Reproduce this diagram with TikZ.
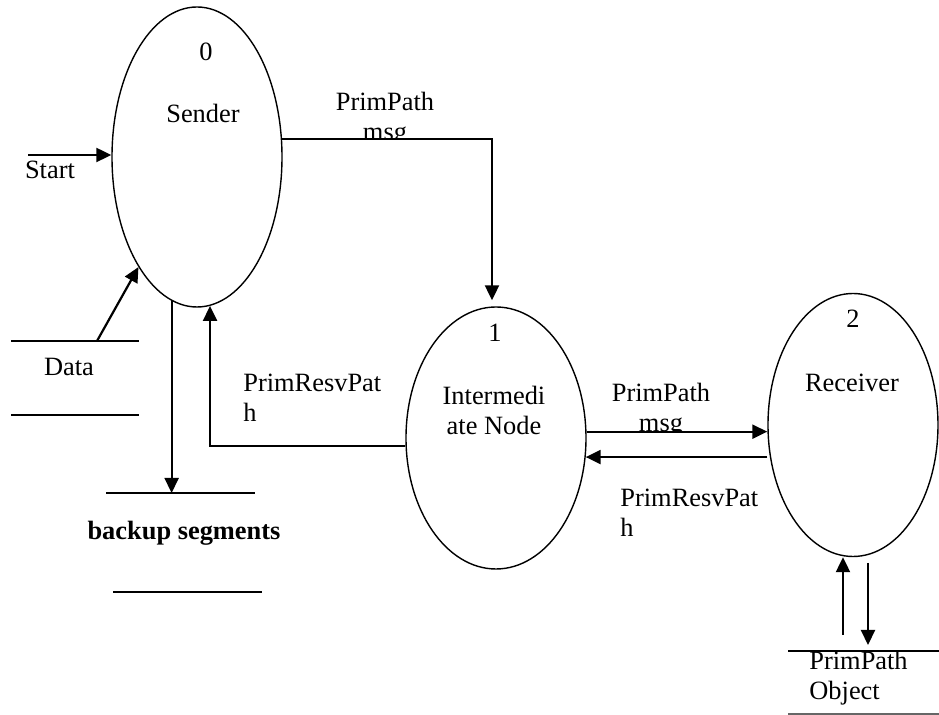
\documentclass[tikz,border=0pt]{standalone}
\usepackage{fontspec}
\setmainfont{Liberation Serif}
\usetikzlibrary{shapes.geometric,arrows.meta}
\tikzset{
  proc/.style={draw, ellipse, line width=0.7pt, inner sep=0pt},
  lbl/.style={inner sep=0pt, font=\fontsize{13.2}{15}\selectfont},
  arr/.style={line width=1.1pt, -{Triangle[length=7.5pt,width=7pt]}},
  store/.style={line width=0.85pt},
}
\begin{document}
\begin{tikzpicture}[x=0.5pt,y=-0.5pt]
\useasboundingbox (0,0) rectangle (939,715);
% processes
\node[proc, minimum width=85pt, minimum height=150pt] (sender) at (197,157) {};
\node[proc, minimum width=90pt, minimum height=131pt] (inter) at (496,438) {};
\node[proc, minimum width=85pt, minimum height=131.5pt] (recv) at (853,425) {};
% process texts
\node[lbl] (n0) at (206,52) {0};
\node[lbl] (tsender) at (203,113) {Sender};
\node[lbl] (n1) at (495,333) {1};
\node[lbl, align=center] (tinter) at (494,410) {Intermedi\\ate Node};
\node[lbl] (n2) at (853,319) {2};
\node[lbl] (trecv) at (852,383) {Receiver};
% stores
\draw[store] (11,341) -- (139,341);
\draw[store] (11,415) -- (139,415);
\node[lbl] (tdata) at (69,367) {Data};
\draw[store] (106,493) -- (255,493);
\draw[store] (113,592) -- (262,592);
\node[lbl, font=\fontsize{13.2}{15}\selectfont\bfseries] (tbackup) at (184,533) {backup segments};
\draw[store] (788,651) -- (939,651);
\draw[store, draw=black!60] (788,714) -- (939,714);
\node[lbl, align=left, anchor=west] (tobj) at (809,678) {PrimPath\\Object};
% coordinates for free ends
\coordinate (startc) at (28,155);
\coordinate (dataA) at (97,341);
\coordinate (bk) at (173,493);
\coordinate (objup) at (843,635);
\coordinate (objdn1) at (868,563);
\coordinate (objdn2) at (868,645);
% connectors
\draw[arr] (startc) -- (startc -| sender.west);
\node[lbl] (tstart) at (50,170) {Start};
\draw[arr] (dataA) -- (sender.242);
\draw[arr] (sender.12) -| ([xshift=-2pt,yshift=3pt]inter.north);
\begin{scope}
\clip (300,60) rectangle (470,138);
\node[lbl, align=center] (tpp1) at (385,119) {PrimPath\\msg};
\end{scope}
\draw[arr] (sender.260.5) -- (sender.260.5 |- bk);
\draw[arr] (inter.185.7) -| (sender.275);
\node[lbl, align=left, anchor=west] (tprv1) at (243,398) {PrimResvPat\\h};
\draw[arr] (inter.4) -- (inter.4 -| recv.west);
\begin{scope}
\clip (590,370) rectangle (740,431);
\node[lbl, align=center] (tpp2) at (661,410) {PrimPath\\msg};
\end{scope}
\draw[arr] (inter.348.6 -| recv.west) -- (inter.348.6);
\node[lbl, align=left, anchor=west] (tprv2) at (620,513) {PrimResvPat\\h};
\draw[arr] (objup) -- (objup |- recv.south);
\draw[arr] (objdn1) -- (objdn2);
\end{tikzpicture}
\end{document}
